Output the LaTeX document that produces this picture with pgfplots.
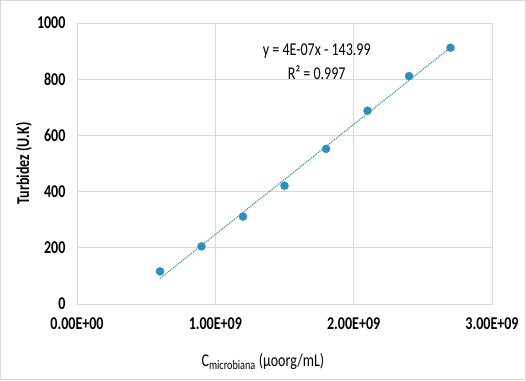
\documentclass[border=0pt]{standalone}
\usepackage{pgfplots}
\pgfplotsset{compat=1.18}
\usepackage{fontspec}
\setmainfont{Carlito}[FakeStretch=0.78]
\definecolor{mblue}{RGB}{46,143,190}
\definecolor{gridg}{RGB}{217,217,217}
\begin{document}
\begin{tikzpicture}
\path[use as bounding box] (-77pt,-76pt) rectangle (449pt,304pt);
\draw[gridg,line width=0.8pt] (-76.5pt,-75.5pt) rectangle (448.5pt,303.5pt);
\begin{axis}[
  at={(0,0)}, anchor=south west,
  scale only axis, width=415pt, height=281pt,
  xmin=0, xmax=3e9, ymin=0, ymax=1000,
  scaled x ticks=false, scaled y ticks=false,
  xtick={0,1e9,2e9,3e9},
  xticklabels={0.00E+00,1.00E+09,2.00E+09,3.00E+09},
  ytick={0,200,400,600,800,1000},
  yticklabels={0,200,400,600,800,1000},
  /pgf/number format/assume math mode=true,
  major tick length=0pt,
  grid=major,
  major grid style={gridg, line width=0.8pt},
  axis line style={gridg, line width=0.8pt},
  tick label style={font=\fontsize{18}{20}\selectfont\bfseries, text=black},
  xticklabel style={yshift=-10pt},
  yticklabel style={xshift=-8pt},
  xlabel={C\textsubscript{\fontsize{13}{14}\selectfont microbiana} (µoorg/mL)},
  ylabel={\bfseries Turbidez (U.K)},
  label style={font=\fontsize{18}{20}\selectfont, text=black},
  xlabel style={at={(axis description cs:0.448,-0.206)}, anchor=center},
  ylabel style={at={(axis description cs:-0.128,0.5)}, anchor=center},
]
\addplot[mblue, densely dotted, line width=1.1pt] coordinates {(6e8,91) (2.7e9,913)};
\addplot[only marks, mark=*, mark size=4pt, mblue, mark options={draw=mblue, fill=mblue}] coordinates {
 (6e8,116) (9e8,205) (1.2e9,311) (1.5e9,421) (1.8e9,552) (2.1e9,688) (2.4e9,811) (2.7e9,912)};
\node[font=\fontsize{18}{20}\selectfont, anchor=center] at (axis cs:1.733e9,901) {y = 4E-07x - 143.99};
\node[font=\fontsize{18}{20}\selectfont, anchor=center] at (axis cs:1.733e9,823) {R² = 0.997};
\end{axis}
\end{tikzpicture}
\end{document}
